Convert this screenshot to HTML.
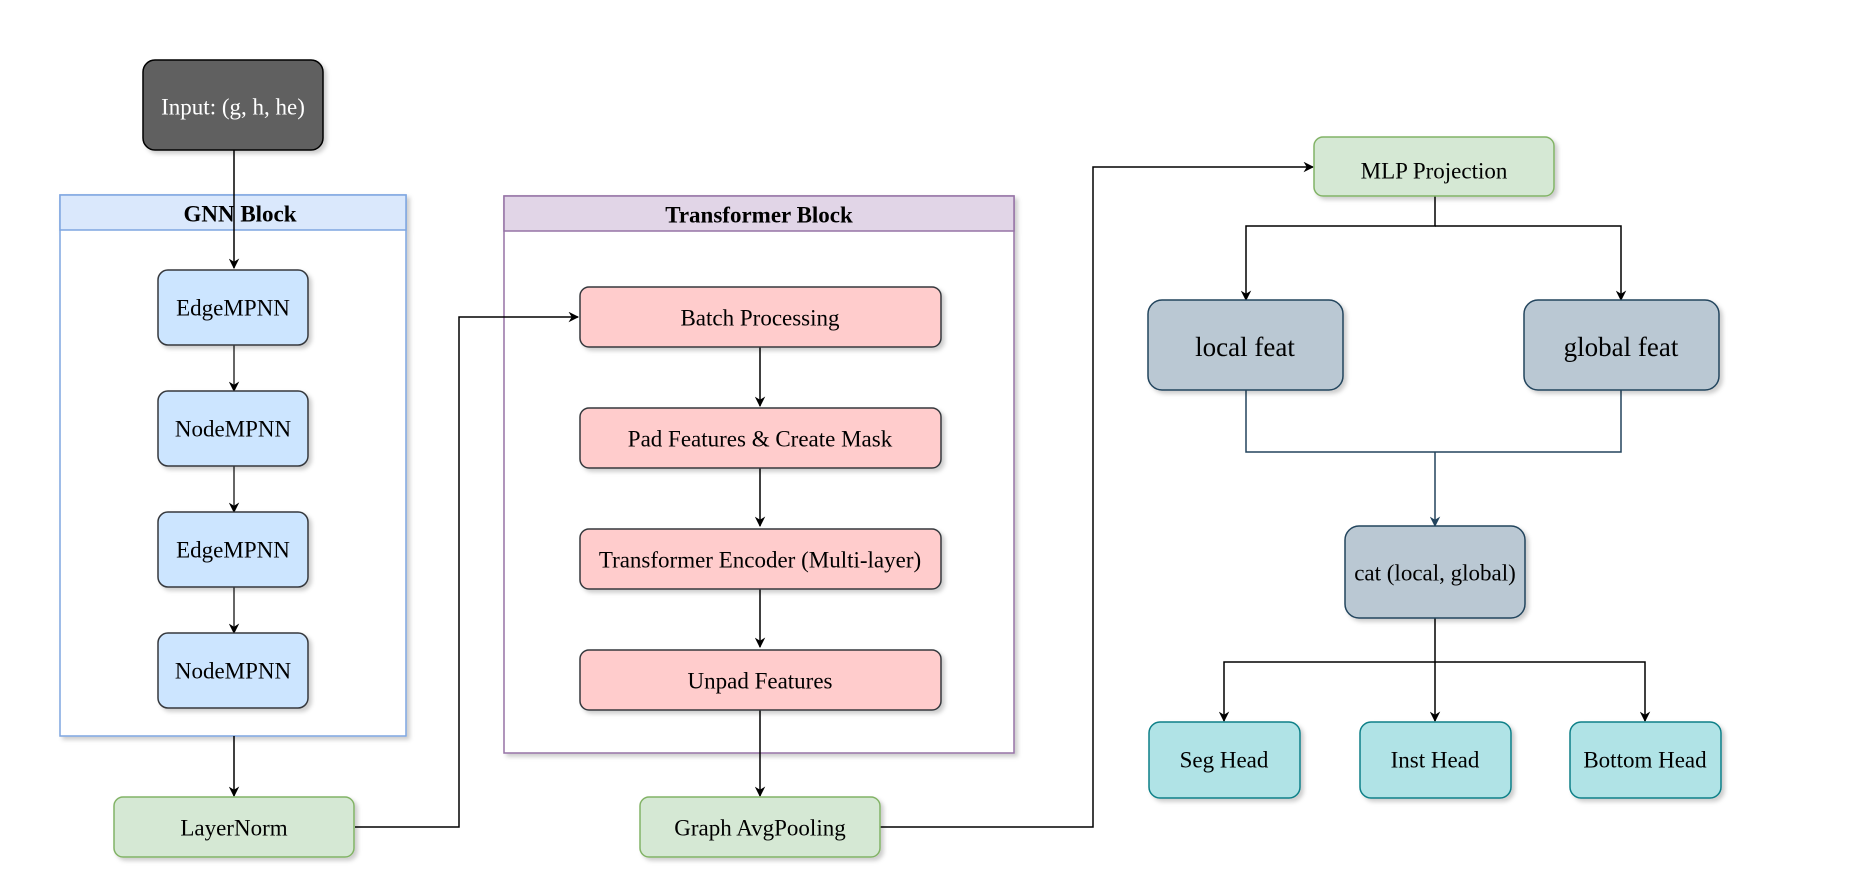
<!DOCTYPE html>
<html><head><meta charset="utf-8"><style>html,body{margin:0;padding:0;background:#fff}svg{display:block}text{font-family:"Liberation Serif",serif;text-anchor:middle;dominant-baseline:central}</style></head><body>
<svg width="1869" height="884" viewBox="0 0 1869 884" xmlns="http://www.w3.org/2000/svg">
<defs>
<filter id="sh" x="-20%" y="-20%" width="150%" height="160%"><feDropShadow dx="3" dy="3" stdDeviation="2" flood-color="#000" flood-opacity="0.2"/></filter>
<marker id="a" viewBox="0 0 10 10" refX="9" refY="5" markerWidth="7" markerHeight="7" orient="auto"><path d="M0,0 L10,5 L0,10 L3,5z" fill="#000"/></marker>
<marker id="ab" viewBox="0 0 10 10" refX="9" refY="5" markerWidth="7" markerHeight="7" orient="auto"><path d="M0,0 L10,5 L0,10 L3,5z" fill="#23445d"/></marker>
</defs>
<g filter="url(#sh)">
<rect x="60" y="195" width="346" height="541" fill="#fff" stroke="#7ea6e0" stroke-width="1.5"/>
<rect x="60" y="195" width="346" height="35" fill="#dae8fc" stroke="#7ea6e0" stroke-width="1.5"/>
<rect x="504" y="196" width="510" height="557" fill="#fff" stroke="#9673a6" stroke-width="1.5"/>
<rect x="504" y="196" width="510" height="35" fill="#e1d5e7" stroke="#9673a6" stroke-width="1.5"/>
</g>
<text x="240" y="214" font-size="23" font-weight="bold">GNN Block</text>
<text x="759" y="215" font-size="23" font-weight="bold">Transformer Block</text>
<g fill="none" stroke="#000" stroke-width="1.5">
<path d="M234 150 V268" marker-end="url(#a)"/>
<path d="M234 345 V391" marker-end="url(#a)" stroke="#333"/>
<path d="M234 466 V512" marker-end="url(#a)" stroke="#333"/>
<path d="M234 587 V633" marker-end="url(#a)" stroke="#333"/>
<path d="M234 736 V796" marker-end="url(#a)"/>
<path d="M355 827 H459 V317 H578" marker-end="url(#a)"/>
<path d="M760 347 V406" marker-end="url(#a)"/>
<path d="M760 468 V526" marker-end="url(#a)"/>
<path d="M760 589 V647" marker-end="url(#a)"/>
<path d="M760 710 V796" marker-end="url(#a)"/>
<path d="M880 827 H1093 V167 H1313" marker-end="url(#a)"/>
<path d="M1435 196 V226 H1246 V300" marker-end="url(#a)"/>
<path d="M1435 226 H1621 V300" marker-end="url(#a)"/>
<path d="M1246 390 V452 H1621 V390 M1435 452 V526" stroke="#23445d" marker-end="url(#ab)"/>
<path d="M1435 618 V662 H1224 V721" marker-end="url(#a)"/>
<path d="M1435 662 V721" marker-end="url(#a)"/>
<path d="M1435 662 H1645 V721" marker-end="url(#a)"/>
</g>
<g filter="url(#sh)" stroke-width="1.5">
<rect x="143" y="60" width="180" height="90" rx="12" fill="#616161" stroke="#000"/>
<rect x="158" y="270" width="150" height="75" rx="10" fill="#cce5ff" stroke="#36393d"/>
<rect x="158" y="391" width="150" height="75" rx="10" fill="#cce5ff" stroke="#36393d"/>
<rect x="158" y="512" width="150" height="75" rx="10" fill="#cce5ff" stroke="#36393d"/>
<rect x="158" y="633" width="150" height="75" rx="10" fill="#cce5ff" stroke="#36393d"/>
<rect x="114" y="797" width="240" height="60" rx="9" fill="#d5e8d4" stroke="#82b366"/>
<rect x="580" y="287" width="361" height="60" rx="9" fill="#ffcccc" stroke="#36393d"/>
<rect x="580" y="408" width="361" height="60" rx="9" fill="#ffcccc" stroke="#36393d"/>
<rect x="580" y="529" width="361" height="60" rx="9" fill="#ffcccc" stroke="#36393d"/>
<rect x="580" y="650" width="361" height="60" rx="9" fill="#ffcccc" stroke="#36393d"/>
<rect x="640" y="797" width="240" height="60" rx="9" fill="#d5e8d4" stroke="#82b366"/>
<rect x="1314" y="137" width="240" height="59" rx="9" fill="#d5e8d4" stroke="#82b366"/>
<rect x="1148" y="300" width="195" height="90" rx="14" fill="#bac8d3" stroke="#23445d"/>
<rect x="1524" y="300" width="195" height="90" rx="14" fill="#bac8d3" stroke="#23445d"/>
<rect x="1345" y="526" width="180" height="92" rx="14" fill="#bac8d3" stroke="#23445d"/>
<rect x="1149" y="722" width="151" height="76" rx="11" fill="#b0e3e6" stroke="#0e8088"/>
<rect x="1360" y="722" width="151" height="76" rx="11" fill="#b0e3e6" stroke="#0e8088"/>
<rect x="1570" y="722" width="151" height="76" rx="11" fill="#b0e3e6" stroke="#0e8088"/>
</g>
<g font-size="23" fill="#000">
<text x="233" y="107" fill="#fff">Input: (g, h, he)</text>
<text x="233" y="308">EdgeMPNN</text>
<text x="233" y="429">NodeMPNN</text>
<text x="233" y="550">EdgeMPNN</text>
<text x="233" y="671">NodeMPNN</text>
<text x="234" y="828">LayerNorm</text>
<text x="760" y="318">Batch Processing</text>
<text x="760" y="439">Pad Features &amp; Create Mask</text>
<text x="760" y="560">Transformer Encoder (Multi-layer)</text>
<text x="760" y="681">Unpad Features</text>
<text x="760" y="828">Graph AvgPooling</text>
<text x="1434" y="171">MLP Projection</text>
<text x="1245" y="347" font-size="27">local feat</text>
<text x="1621" y="347" font-size="27">global feat</text>
<text x="1435" y="573">cat (local, global)</text>
<text x="1224" y="760">Seg Head</text>
<text x="1435" y="760">Inst Head</text>
<text x="1645" y="760">Bottom Head</text>
</g>
</svg>
</body></html>
